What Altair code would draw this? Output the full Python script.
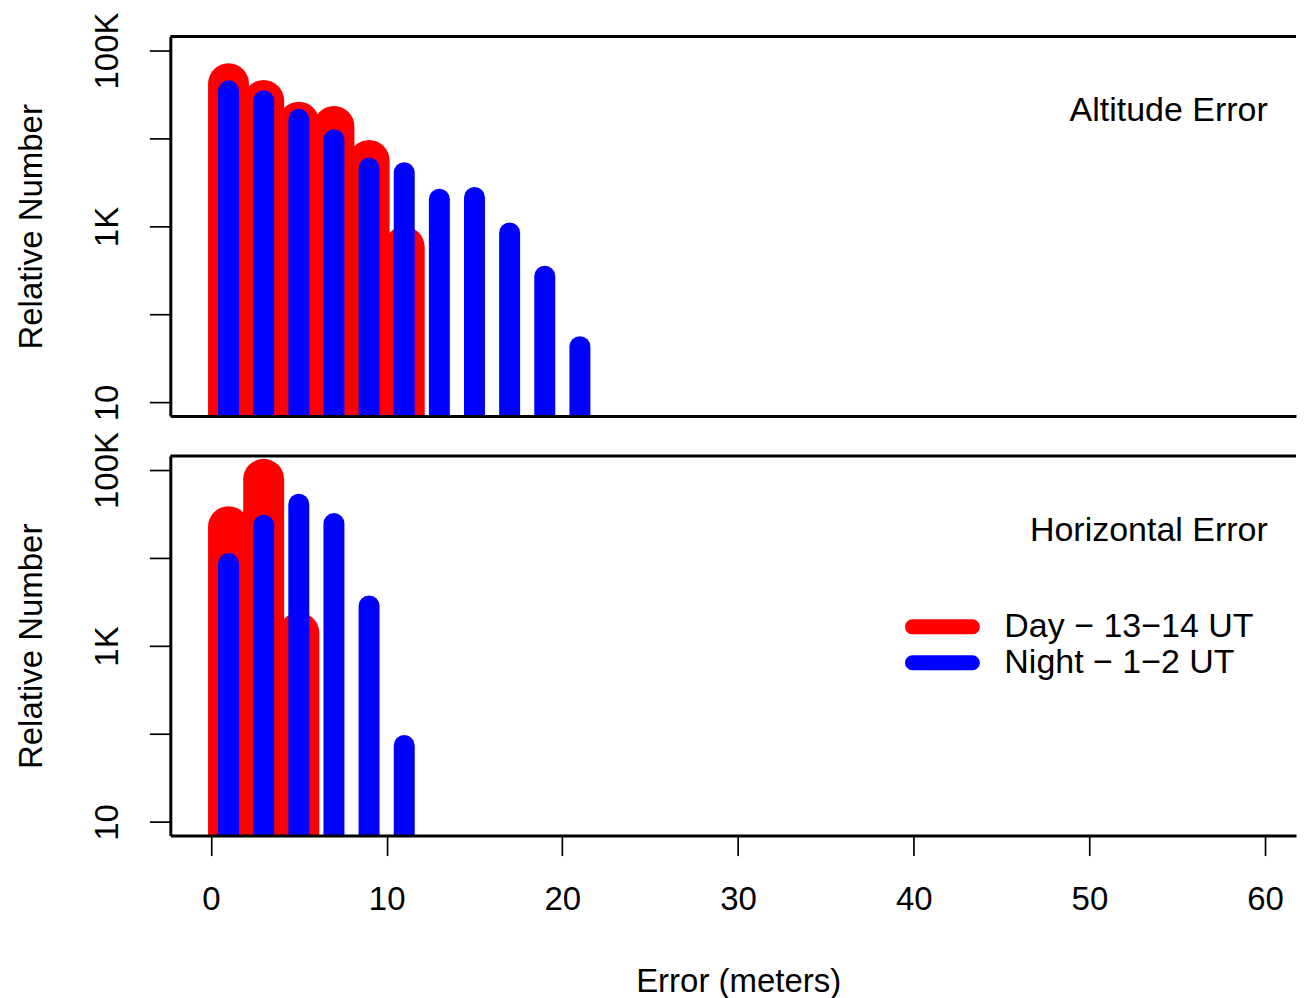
import altair as alt
import pandas as pd

# ---- data ----
x_alt_day = [1, 3, 5, 7, 9, 11]
alt_day = [41900, 27000, 15300, 13700, 5640, 585]
x_alt_night = [1, 3, 5, 7, 9, 11, 13, 15, 17, 19, 21]
alt_night = [34800, 26900, 16500, 9690, 4610, 4090, 2040, 2140, 843, 272, 43]
x_hor_day = [1, 3, 5]
hor_day = [22700, 78300, 1410]
x_hor_night = [1, 3, 5, 7, 9, 11]
hor_night = [8670, 23600, 40800, 24600, 2850, 74]

series = ["Day \u2212 13\u221214 UT", "Night \u2212 1\u22122 UT"]
colors = ["#ff0000", "#0000ff"]
panel_titles = ["Altitude Error", "Horizontal Error"]
y_ticks = [10, 100, 1000, 10000, 100000]
y_tick_labels = ["10", "", "1K", "", "100K"]
x_ticks = [0, 10, 20, 30, 40, 50, 60]

FONT = "Liberation Sans"
FS = 33
FS_TXT = 34
W, H = 1127, 380
X_DOMAIN = [-2.314, 61.76]
Y_DOMAIN = [7.0, 144000]

# legend key: capsule outline stroked so that it looks like a thick
# line with round ends (custom symbol path, scaled by sqrt(size)/2)
LEGEND_KEY = "M-4,-0.5L4,-0.5A0.5,0.5,0,0,1,4,0.5L-4,0.5A0.5,0.5,0,0,1,-4,-0.5Z"

label_expr = "''"
for v, lab in zip(y_ticks, y_tick_labels):
    label_expr = f"datum.value == {v} ? '{lab}' : (" + label_expr + ")"

xscale = alt.Scale(domain=X_DOMAIN, nice=False, zero=False)
yscale = alt.Scale(type="log", domain=Y_DOMAIN, nice=False)
cscale = alt.Scale(domain=series, range=colors)

yaxis = alt.Axis(
    values=y_ticks, labelExpr=label_expr, title="Relative Number",
    grid=False, domain=True, domainColor="black", domainWidth=3,
    ticks=True, tickColor="black", tickWidth=1.7, tickSize=21,
    labelAngle=270, labelAlign="center", labelBaseline="alphabetic",
    labelPadding=32, labelFontSize=FS, labelFont=FONT, labelColor="black",
    labelOverlap=False, labelFlush=False,
    titleFontSize=FS, titleFont=FONT, titleFontWeight="normal", titleColor="black",
    titleAngle=270, titleBaseline="alphabetic", titleX=-129, zindex=1,
)


def xaxis(bottom):
    if bottom:
        return alt.Axis(
            values=x_ticks, title="Error (meters)", grid=False,
            domain=True, domainColor="black", domainWidth=3,
            ticks=True, tickColor="black", tickWidth=1.7, tickSize=20,
            labelFontSize=FS, labelFont=FONT, labelColor="black",
            labelBaseline="alphabetic", labelPadding=54,
            labelOverlap=False, labelFlush=False,
            titleFontSize=FS, titleFont=FONT, titleFontWeight="normal",
            titleColor="black", titleBaseline="alphabetic",
            titleX=568.5, titleY=155.7, zindex=1,
        )
    return alt.Axis(values=x_ticks, title=None, grid=False, labels=False,
                    ticks=False, domain=True, domainColor="black",
                    domainWidth=3, zindex=1)


def panel(xd, yd, xn, yn, title, bottom):
    d_day = pd.DataFrame({"x": xd, "v": yd, "s": series[0]})
    d_night = pd.DataFrame({"x": xn, "v": yn, "s": series[1]})
    if bottom:
        legend = alt.Legend(
            orient="none", legendX=756, legendY=154, title=None,
            symbolType=LEGEND_KEY, symbolSize=225, symbolStrokeWidth=7.5,
            symbolOpacity=1,
            labelFontSize=FS_TXT, labelFont=FONT, labelColor="black",
            labelLimit=600, labelOffset=45, rowPadding=-16, padding=0,
        )
    else:
        legend = None

    def bars(df, sw):
        return alt.Chart(df).mark_rule(strokeWidth=sw, strokeCap="round", clip=True).encode(
            x=alt.X("x:Q", scale=xscale, axis=xaxis(bottom)),
            y=alt.Y("v:Q", scale=yscale, axis=yaxis),
            y2=alt.datum(1),
            color=alt.Color("s:N", scale=cscale, legend=legend),
        )

    label = alt.Chart(pd.DataFrame({"t": [title]})).mark_text(
        align="right", baseline="alphabetic", fontSize=FS_TXT, font=FONT, color="black"
    ).encode(x=alt.XDatum(60.15), y=alt.YDatum(15600), text="t:N")
    topline = alt.Chart(pd.DataFrame({"t": [0]})).mark_rule(
        strokeWidth=3, color="black"
    ).encode(x=alt.XDatum(X_DOMAIN[0]), x2=alt.X2Datum(X_DOMAIN[1]),
             y=alt.YDatum(Y_DOMAIN[1]))
    return alt.layer(bars(d_day, 41), bars(d_night, 21), label, topline).properties(
        width=W, height=H)


top = panel(x_alt_day, alt_day, x_alt_night, alt_night, panel_titles[0], False)
bot = panel(x_hor_day, hor_day, x_hor_night, hor_night, panel_titles[1], True)

chart = alt.vconcat(top, bot, spacing=40, bounds="flush").resolve_scale(
    color="independent"
).resolve_legend(color="independent").properties(
    padding={"left": 7.5, "top": 3, "right": 0, "bottom": 0}
).configure(font=FONT, background="white").configure_view(strokeWidth=0, stroke=None)

chart.save("out.html", embed_options={"renderer": "svg", "actions": False})
